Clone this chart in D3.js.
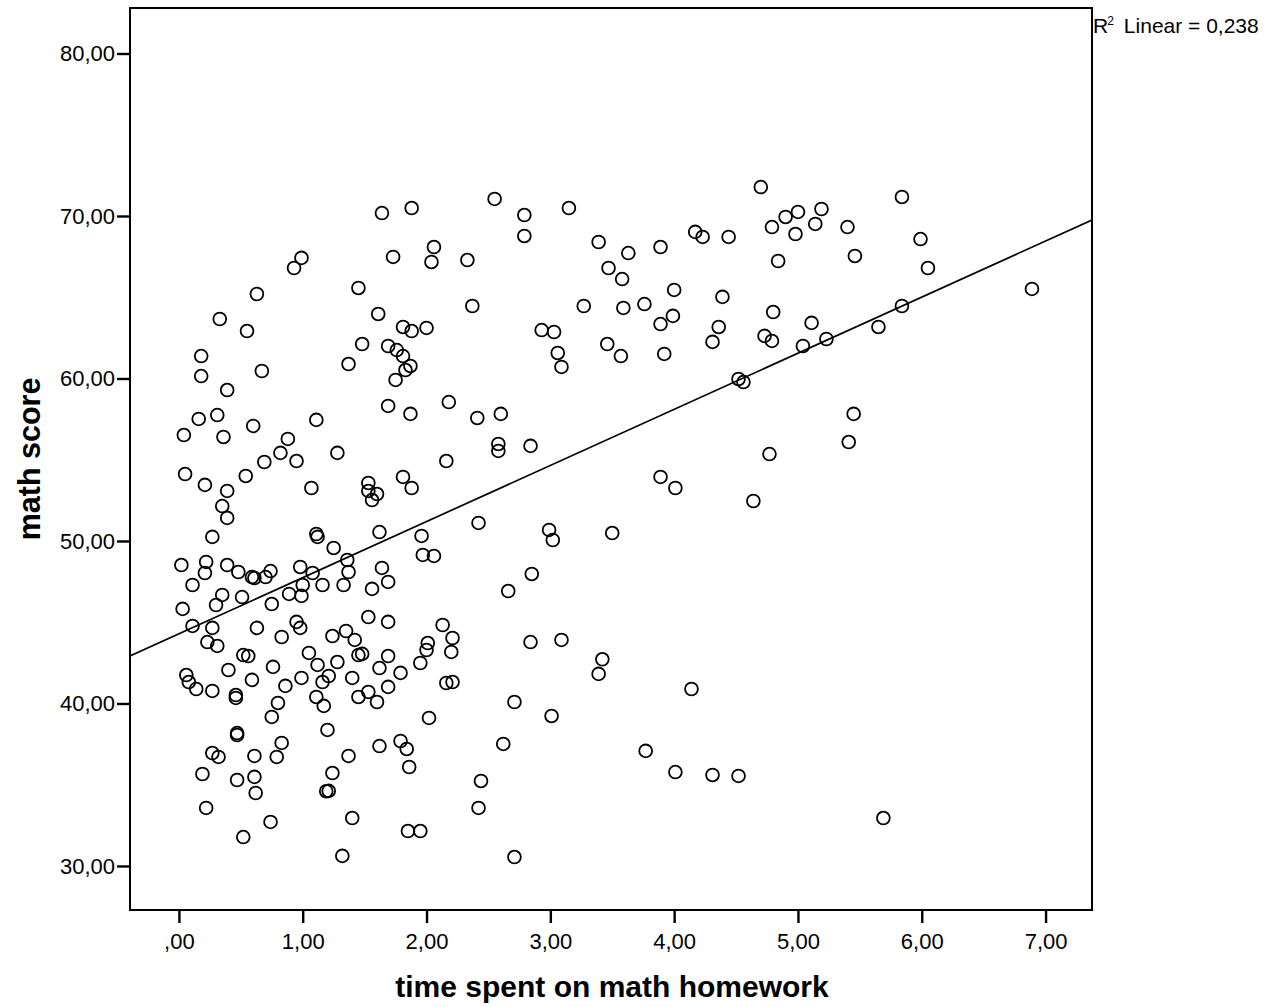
<!DOCTYPE html>
<html>
<head>
<meta charset="utf-8">
<script src="https://cdn.jsdelivr.net/npm/d3@7"></script>
<style>
  body { margin: 0; background: #fff; }
  svg { font-family: "Liberation Sans", Arial, sans-serif; }
</style>
</head>
<body>
<svg id="viz" width="1276" height="1007"></svg>
<script>
// hours of homework (x) and math score (y), one entry per student
var hours = [
  0.35,0.39,0.27,1.11,1.12,1.25,1.62,1.96,1.97,2.06,
  0.02,0.22,0.21,0.39,0.48,0.59,0.61,0.70,0.74,0.98,
  1.08,1.00,1.16,1.36,1.37,1.33,1.64,1.69,1.56,0.11,
  0.35,0.30,0.51,0.89,0.99,0.75,0.03,0.11,0.27,0.23,
  0.31,0.63,0.83,0.95,0.98,1.24,1.35,1.42,1.53,1.69,
  2.13,2.21,2.01,2.00,2.20,0.52,0.56,1.05,1.45,1.48,
  1.69,0.06,0.08,0.14,0.27,0.40,0.59,0.46,0.46,0.76,
  0.86,0.99,1.12,1.28,1.21,1.16,1.40,1.62,1.79,1.95,
  1.69,1.53,1.45,1.60,1.11,1.17,0.80,0.75,2.02,2.16,
  2.21,0.47,0.47,0.83,1.20,0.27,0.32,0.61,0.79,1.62,
  1.79,1.84,1.86,1.37,0.19,0.47,0.61,0.62,1.24,1.21,
  1.19,0.22,0.74,1.40,0.52,1.85,1.95,1.32,
  1.64,1.88,0.99,0.93,1.73,2.06,2.04,2.33,0.63,1.45,
  0.33,0.55,1.61,1.81,1.88,2.00,1.48,1.69,1.76,1.81,
  1.87,1.83,1.75,1.37,0.18,0.18,0.39,0.67,1.69,1.87,
  2.18,0.31,0.16,0.04,0.36,0.60,1.11,0.88,0.82,0.95,
  0.69,1.28,2.16,0.05,0.21,0.39,0.54,1.07,1.53,1.53,
  1.60,1.56,1.81,1.88,
  2.55,2.79,2.79,3.15,2.37,3.39,3.63,3.47,3.58,3.89,
  4.17,4.23,4.44,4.70,4.90,4.79,4.84,3.27,3.59,3.76,
  4.00,4.39,3.99,3.89,4.36,4.31,4.80,4.73,4.79,2.93,
  3.03,3.46,3.57,3.92,3.06,3.09,4.52,4.56,2.41,2.60,
  2.58,2.58,2.84,4.77,3.89,4.01,4.64,
  2.42,2.99,3.02,3.50,2.85,2.66,2.84,3.09,3.42,3.39,
  4.14,2.71,3.01,2.62,3.77,4.01,4.31,4.52,2.44,2.42,
  2.71,
  5.00,4.98,5.19,5.14,5.40,5.46,5.84,5.99,6.05,6.89,
  5.11,5.04,5.23,5.65,5.84,5.45,5.41,5.69
];

var scores = [
  52.15,51.42,50.25,50.43,50.25,49.57,50.55,50.31,49.14,49.08,
  48.52,48.71,48.03,48.52,48.09,47.78,47.72,47.78,48.15,48.40,
  48.03,47.29,47.29,48.83,48.09,47.29,48.34,47.48,47.05,47.29,
  46.68,46.06,46.55,46.74,46.62,46.12,45.82,44.77,44.65,43.78,
  43.54,44.65,44.09,45.02,44.65,44.15,44.46,43.91,45.32,45.02,
  44.83,44.03,43.72,43.29,43.17,42.98,42.92,43.11,42.98,43.05,
  42.92,41.75,41.32,40.89,40.77,42.06,41.45,40.52,40.34,42.25,
  41.08,41.57,42.37,42.55,41.69,41.32,41.57,42.18,41.88,42.49,
  41.02,40.71,40.40,40.09,40.40,39.85,40.03,39.17,39.11,41.26,
  41.32,38.18,38.06,37.57,38.37,36.95,36.71,36.77,36.71,37.38,
  37.69,37.20,36.09,36.77,35.66,35.29,35.48,34.49,35.72,34.62,
  34.60,33.57,32.71,32.95,31.78,32.15,32.15,30.62,
  70.18,70.49,67.42,66.80,67.48,68.09,67.17,67.29,65.20,65.57,
  63.66,62.92,63.97,63.17,62.92,63.11,62.12,62.00,61.75,61.38,
  60.77,60.52,59.91,60.89,61.38,60.15,59.29,60.46,58.31,57.82,
  58.55,57.75,57.51,56.52,56.40,57.08,57.45,56.28,55.42,54.92,
  54.86,55.42,54.92,54.12,53.45,53.08,54.00,53.26,53.57,53.08,
  52.89,52.52,53.94,53.26,
  71.05,70.06,68.77,70.49,64.46,68.40,67.72,66.80,66.12,68.09,
  69.02,68.71,68.71,71.78,69.94,69.32,67.23,64.46,64.34,64.58,
  65.45,65.02,63.85,63.35,63.17,62.25,64.09,62.62,62.31,62.98,
  62.86,62.12,61.38,61.51,61.57,60.71,59.97,59.78,57.57,57.82,
  55.97,55.54,55.85,55.35,53.94,53.26,52.46,
  51.11,50.68,50.06,50.49,47.97,46.92,43.78,43.91,42.72,41.82,
  40.89,40.09,39.23,37.51,37.08,35.78,35.60,35.54,35.23,33.57,
  30.55,
  70.25,68.89,70.43,69.51,69.32,67.54,71.17,68.58,66.80,65.51,
  63.42,62.00,62.43,63.17,64.46,57.82,56.09,32.95
];

var xTicks = [0, 1, 2, 3, 4, 5, 6, 7];
var yTicks = [30, 40, 50, 60, 70, 80];

// linear fit as printed by SPSS
var fitIntercept = 44.29;
var fitSlope = 3.453;
var fitR2 = "0,238";

var xTitle = "time spent on math homework";
var yTitle = "math score";

(function() {
  var svg = d3.select('svg#viz');
  var pLeft = 130, pRight = 1092, pTop = 8, pBottom = 910;

  var x = d3.scaleLinear().domain([-0.395, 7.375]).range([pLeft, pRight]);
  var y = d3.scaleLinear().domain([27.29, 82.8]).range([pBottom, pTop]);

  // SPSS style numbers: comma decimal, no leading zero
  function fmt(v) {
    var s = d3.format('.2f')(v).replace('.', ',');
    if (s.indexOf('0,') === 0) s = s.slice(1);
    return s;
  }

  var points = hours.map(function(h, i) { return [h, scores[i]]; });

  svg.append('defs').append('clipPath').attr('id', 'plotclip')
    .append('rect')
    .attr('x', pLeft).attr('y', pTop)
    .attr('width', pRight - pLeft).attr('height', pBottom - pTop);

  // axes
  var xAxis = svg.append('g')
    .attr('transform', 'translate(0,' + pBottom + ')')
    .call(d3.axisBottom(x).tickValues(xTicks).tickSize(13).tickPadding(10).tickFormat(fmt));

  var yAxis = svg.append('g')
    .attr('transform', 'translate(' + pLeft + ',0)')
    .call(d3.axisLeft(y).tickValues(yTicks).tickSize(13).tickPadding(2).tickFormat(fmt));

  [xAxis, yAxis].forEach(function(a) {
    a.select('.domain').remove();
    a.selectAll('line').attr('stroke', '#000').attr('stroke-width', 2.4);
    a.selectAll('text')
      .attr('fill', '#000')
      .style('font-size', '22px')
      .style('font-family', '"Liberation Sans", Arial, sans-serif');
  });

  // frame
  svg.append('rect')
    .attr('x', pLeft).attr('y', pTop)
    .attr('width', pRight - pLeft).attr('height', pBottom - pTop)
    .attr('fill', 'none')
    .attr('stroke', '#000')
    .attr('stroke-width', 2);

  // regression line
  var xd = x.domain();
  svg.append('line')
    .attr('clip-path', 'url(#plotclip)')
    .attr('x1', x(xd[0])).attr('y1', y(fitIntercept + fitSlope * xd[0]))
    .attr('x2', x(xd[1])).attr('y2', y(fitIntercept + fitSlope * xd[1]))
    .attr('stroke', '#000')
    .attr('stroke-width', 1.7);

  // points
  svg.append('g').selectAll('circle')
    .data(points)
    .enter().append('circle')
    .attr('cx', function(d) { return x(d[0]); })
    .attr('cy', function(d) { return y(d[1]); })
    .attr('r', 6.4)
    .attr('fill', 'none')
    .attr('stroke', '#000')
    .attr('stroke-width', 1.8);

  // R2 label
  var r2 = svg.append('text')
    .attr('x', pRight + 1)
    .attr('y', 33)
    .style('font-size', '21px')
    .attr('fill', '#000');
  r2.append('tspan').text('R');
  r2.append('tspan').attr('dy', -8).attr('dx', -1).style('font-size', '12px').text('2');
  r2.append('tspan').attr('dy', 8).attr('dx', 10).text('Linear = ' + fitR2);

  // axis titles
  svg.append('text')
    .attr('x', (pLeft + pRight) / 2 + 1)
    .attr('y', 997)
    .attr('text-anchor', 'middle')
    .style('font-size', '30px')
    .style('font-weight', 'bold')
    .text(xTitle);

  svg.append('text')
    .attr('transform', 'translate(40,459) rotate(-90)')
    .attr('text-anchor', 'middle')
    .style('font-size', '30.5px')
    .style('font-weight', 'bold')
    .text(yTitle);
})();
</script>
</body>
</html>
